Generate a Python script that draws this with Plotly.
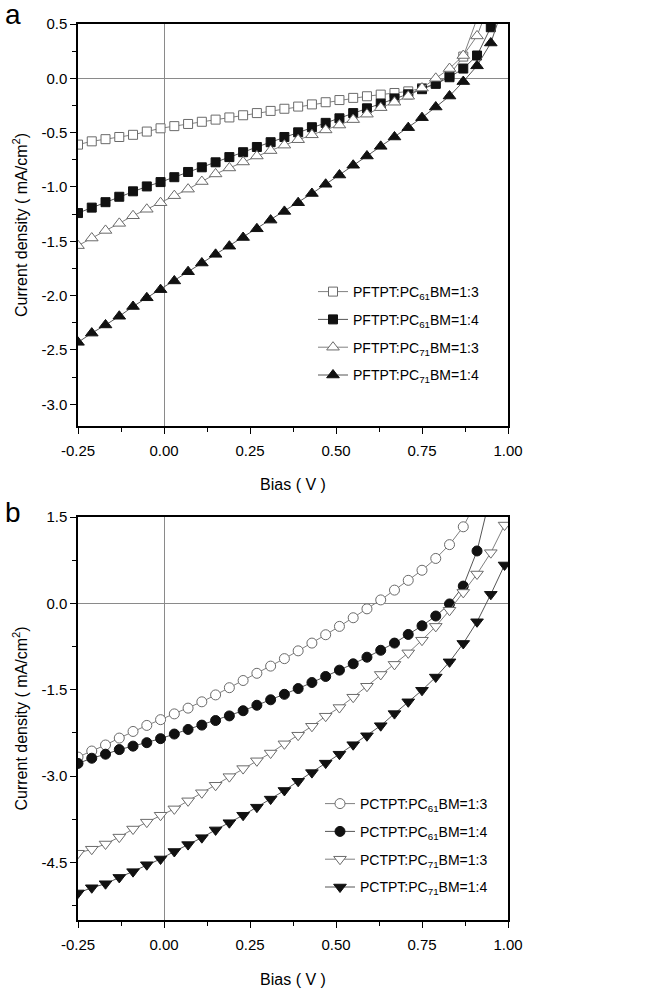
import plotly.graph_objects as go

# ---------------- data ----------------
BIAS = [-0.25, -0.21, -0.17, -0.13, -0.09, -0.05, -0.01, 0.03, 0.07, 0.11,
        0.15, 0.19, 0.23, 0.27, 0.31, 0.35, 0.39, 0.43, 0.47, 0.51,
        0.55, 0.59, 0.63, 0.67, 0.71, 0.75, 0.79, 0.83, 0.87, 0.91,
        0.95, 0.99]

# panel a (PFTPT)
PFTPT_PC61_13 = [-0.61, -0.58, -0.56, -0.54, -0.52, -0.49, -0.46, -0.44, -0.42, -0.40,
                 -0.38, -0.36, -0.34, -0.32, -0.30, -0.28, -0.26, -0.24, -0.22, -0.20,
                 -0.18, -0.165, -0.15, -0.135, -0.12, -0.09, -0.05, 0.03, 0.20, 0.55,
                 1.10]
PFTPT_PC61_14 = [-1.24, -1.19, -1.14, -1.09, -1.04, -0.995, -0.955, -0.91, -0.862, -0.819,
                 -0.773, -0.725, -0.68, -0.632, -0.588, -0.54, -0.497, -0.45, -0.41, -0.368,
                 -0.32, -0.276, -0.233, -0.185, -0.147, -0.10, -0.05, 0.01, 0.09, 0.21,
                 0.47, 1.00]
PFTPT_PC71_13 = [-1.54, -1.47, -1.40, -1.335, -1.265, -1.205, -1.145, -1.08, -1.02, -0.95,
                 -0.88, -0.825, -0.77, -0.715, -0.665, -0.615, -0.565, -0.52, -0.475, -0.43,
                 -0.38, -0.33, -0.27, -0.22, -0.165, -0.09, 0.0, 0.09, 0.21, 0.39,
                 0.72]
PFTPT_PC71_14 = [-2.43, -2.345, -2.27, -2.19, -2.10, -2.02, -1.945, -1.865, -1.78, -1.70,
                 -1.62, -1.545, -1.465, -1.385, -1.305, -1.225, -1.145, -1.06, -0.975, -0.89,
                 -0.80, -0.715, -0.626, -0.54, -0.454, -0.362, -0.264, -0.163, -0.03, 0.115,
                 0.325, 0.70]

# panel b (PCTPT)
PCTPT_PC61_13 = [-2.67, -2.565, -2.46, -2.34, -2.225, -2.12, -2.02, -1.92, -1.82, -1.71,
                 -1.59, -1.465, -1.34, -1.215, -1.09, -0.96, -0.825, -0.69, -0.545, -0.40,
                 -0.25, -0.095, 0.06, 0.23, 0.40, 0.575, 0.78, 1.02, 1.33, 1.80]
PCTPT_PC61_14 = [-2.78, -2.69, -2.62, -2.54, -2.48, -2.42, -2.35, -2.27, -2.19, -2.115,
                 -2.035, -1.955, -1.865, -1.77, -1.675, -1.58, -1.48, -1.375, -1.27, -1.16,
                 -1.05, -0.935, -0.815, -0.69, -0.54, -0.39, -0.22, -0.01, 0.30, 0.91,
                 1.90]
PCTPT_PC71_13 = [-4.34, -4.27, -4.18, -4.06, -3.92, -3.80, -3.68, -3.57, -3.43, -3.29,
                 -3.16, -3.01, -2.87, -2.735, -2.60, -2.44, -2.29, -2.135, -1.96, -1.81,
                 -1.63, -1.44, -1.235, -1.06, -0.86, -0.64, -0.40, -0.12, 0.19, 0.51,
                 0.88, 1.36]
PCTPT_PC71_14 = [-5.03, -4.94, -4.87, -4.76, -4.66, -4.54, -4.44, -4.31, -4.19, -4.07,
                 -3.935, -3.81, -3.68, -3.54, -3.40, -3.25, -3.09, -2.94, -2.775, -2.62,
                 -2.455, -2.30, -2.125, -1.915, -1.71, -1.51, -1.28, -1.016, -0.696, -0.32,
                 0.157, 0.667]

NAMES_A = ["PFTPT:PC<sub>61</sub>BM=1:3", "PFTPT:PC<sub>61</sub>BM=1:4",
           "PFTPT:PC<sub>71</sub>BM=1:3", "PFTPT:PC<sub>71</sub>BM=1:4"]
NAMES_B = ["PCTPT:PC<sub>61</sub>BM=1:3", "PCTPT:PC<sub>61</sub>BM=1:4",
           "PCTPT:PC<sub>71</sub>BM=1:3", "PCTPT:PC<sub>71</sub>BM=1:4"]

XTICK_VALS = [-0.25, 0.0, 0.25, 0.5, 0.75, 1.0]
XTICK_TEXT = ["-0.25", "0.00", "0.25", "0.50", "0.75", "1.00"]
YA_TICK_VALS = [0.5, 0.0, -0.5, -1.0, -1.5, -2.0, -2.5, -3.0]
YA_TICK_TEXT = ["0.5", "0.0", "-0.5", "-1.0", "-1.5", "-2.0", "-2.5", "-3.0"]
YB_TICK_VALS = [1.5, 0.0, -1.5, -3.0, -4.5]
YB_TICK_TEXT = ["1.5", "0.0", "-1.5", "-3.0", "-4.5"]

X_TITLE = "Bias ( V )"
Y_TITLE = "Current density ( mA/cm<sup>2</sup>)"

# ---------------- style ----------------
FONT = "Liberation Sans, Arial, sans-serif"
OPEN_LINE = "#808080"
FILL_LINE = "#555555"

styles_a = [
    dict(symbol="square", size=9, color="white", lc="#6a6a6a", line=OPEN_LINE),
    dict(symbol="square", size=9, color="#111111", lc="#111111", line=FILL_LINE),
    dict(symbol="triangle-up", size=11, color="white", lc="#6a6a6a", line=OPEN_LINE),
    dict(symbol="triangle-up", size=11, color="#111111", lc="#111111", line=FILL_LINE),
]
styles_b = [
    dict(symbol="circle", size=10, color="white", lc="#6a6a6a", line=OPEN_LINE),
    dict(symbol="circle", size=10, color="#111111", lc="#111111", line=FILL_LINE),
    dict(symbol="triangle-down", size=11, color="white", lc="#6a6a6a", line=OPEN_LINE),
    dict(symbol="triangle-down", size=11, color="#111111", lc="#111111", line=FILL_LINE),
]

fig = go.Figure()

series_a = [PFTPT_PC61_13, PFTPT_PC61_14, PFTPT_PC71_13, PFTPT_PC71_14]
series_b = [PCTPT_PC61_13, PCTPT_PC61_14, PCTPT_PC71_13, PCTPT_PC71_14]

for i, (ys, name, st) in enumerate(zip(series_a, NAMES_A, styles_a)):
    fig.add_trace(go.Scatter(
        x=BIAS[:len(ys)], y=ys, name=name, mode="lines+markers",
        line=dict(color=st["line"], width=1),
        marker=dict(symbol=st["symbol"], size=st["size"], color=st["color"],
                    line=dict(color=st["lc"], width=1)),
        xaxis="x", yaxis="y", legend="legend", legendgroup="a%d" % i,
    ))

for i, (ys, name, st) in enumerate(zip(series_b, NAMES_B, styles_b)):
    fig.add_trace(go.Scatter(
        x=BIAS[:len(ys)], y=ys, name=name, mode="lines+markers",
        line=dict(color=st["line"], width=1),
        marker=dict(symbol=st["symbol"], size=st["size"], color=st["color"],
                    line=dict(color=st["lc"], width=1)),
        xaxis="x2", yaxis="y2", legend="legend2", legendgroup="b%d" % i,
    ))

W, H = 666, 988
ML, MR, MT, MB = 78, 158, 24, 68
PH = H - MT - MB


def fy(Y):
    return (H - MB - Y) / PH


def fx(X):
    return (X - ML) / (W - ML - MR)


common_axis = dict(
    showline=True, linecolor="black", linewidth=1.5, mirror=True,
    ticks="outside", ticklen=6, tickwidth=1.2, tickcolor="black",
    showgrid=False, zeroline=True, zerolinecolor="#8a8a8a", zerolinewidth=1,
    automargin=False,
    tickfont=dict(family=FONT, size=15, color="black"),
    title_font=dict(family=FONT, size=16, color="black"),
)

xa = dict(common_axis, range=[-0.25, 1.0], tickmode="array",
          tickvals=XTICK_VALS, ticktext=XTICK_TEXT, ticklabelstandoff=4,
          minor=dict(ticks="outside", ticklen=4, tickcolor="black", tickwidth=1.2,
                     tickmode="linear", tick0=-0.25, dtick=0.125, showgrid=False))

fig.update_layout(
    width=W, height=H,
    margin=dict(l=ML, r=MR, t=MT, b=MB),
    paper_bgcolor="white", plot_bgcolor="white",
    font=dict(family=FONT, size=14, color="black"),
    xaxis=dict(xa, domain=[0, 1], anchor="y",
               title=dict(text=X_TITLE, standoff=21)),
    yaxis=dict(common_axis, domain=[fy(426), 1.0], anchor="x", range=[-3.2, 0.5],
               tickmode="array", tickvals=YA_TICK_VALS, ticktext=YA_TICK_TEXT,
               minor=dict(ticks="outside", ticklen=4, tickcolor="black", tickwidth=1.2,
                          tickmode="linear", tick0=0, dtick=0.25, showgrid=False),
               title=dict(text=Y_TITLE, standoff=10)),
    xaxis2=dict(xa, domain=[0, 1], anchor="y2",
                title=dict(text=X_TITLE, standoff=25)),
    yaxis2=dict(common_axis, domain=[0, fy(517)], anchor="x2", range=[-5.5, 1.5],
                tickmode="array", tickvals=YB_TICK_VALS, ticktext=YB_TICK_TEXT,
                minor=dict(ticks="outside", ticklen=4, tickcolor="black", tickwidth=1.2,
                           tickmode="linear", tick0=0, dtick=0.75, showgrid=False),
                title=dict(text=Y_TITLE, standoff=10)),
    legend=dict(x=fx(313), y=fy(276), xanchor="left", yanchor="top",
                bgcolor="rgba(0,0,0,0)", font=dict(family=FONT, size=14),
                tracegroupgap=6.6, itemwidth=30),
    legend2=dict(x=fx(320), y=fy(788), xanchor="left", yanchor="top",
                 bgcolor="rgba(0,0,0,0)", font=dict(family=FONT, size=14),
                 tracegroupgap=6.6, itemwidth=30),
    annotations=[
        dict(text="a", x=fx(13), y=fy(14), xref="paper", yref="paper",
             xanchor="center", yanchor="middle", showarrow=False,
             font=dict(family=FONT, size=28, color="black")),
        dict(text="b", x=fx(13), y=fy(512), xref="paper", yref="paper",
             xanchor="center", yanchor="middle", showarrow=False,
             font=dict(family=FONT, size=28, color="black")),
    ],
)

fig.write_html("out.html", config={"displayModeBar": False},
               post_script="document.body.style.margin='0px';")
